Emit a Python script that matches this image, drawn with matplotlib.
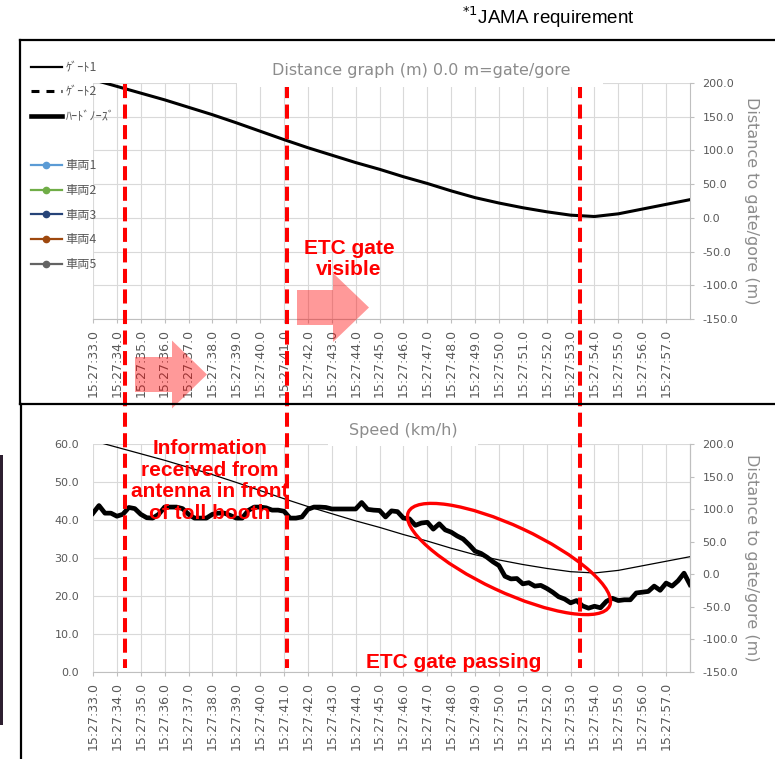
import numpy as np
import matplotlib
matplotlib.use("Agg")
import matplotlib.pyplot as plt
import matplotlib.transforms as mtransforms
from matplotlib.lines import Line2D
from matplotlib.patches import FancyArrow, Ellipse, Rectangle

# ---- data ----
# speed samples every 0.25 s starting at 15:27:33.0
speed_kmh = [
    41.8, 43.8, 41.8, 41.8, 41.0, 41.5, 43.3, 43.0, 41.5, 40.6,
    40.5, 41.5, 43.4, 43.4, 43.4, 43.0, 41.5, 40.5, 40.5, 40.5,
    41.5, 41.8, 41.8, 41.2, 40.5, 40.5, 42.5, 43.4, 43.4, 43.2,
    42.6, 42.6, 42.3, 40.5, 40.5, 40.8, 42.8, 43.4, 43.4, 43.3,
    42.9, 42.9, 42.9, 42.9, 42.9, 44.6, 42.8, 42.6, 42.5, 40.8,
    42.4, 42.2, 40.5, 40.3, 38.6, 39.2, 39.4, 37.6, 39.0, 37.4,
    36.8, 35.8, 35.0, 33.5, 31.8, 31.2, 30.2, 29.0, 28.0, 25.2,
    24.5, 24.6, 23.2, 23.5, 22.6, 22.8, 22.0, 21.0, 19.8, 19.2,
    18.2, 18.8, 17.4, 16.8, 17.3, 16.9, 18.6, 19.4, 18.8, 19.0,
    19.0, 20.8, 21.0, 21.2, 22.6, 21.5, 23.4, 22.6, 24.0, 26.0,
    23.0,
]
speed_step = 0.25

# distance to gate/gore, one value per second
distance_m = [205, 195, 185, 175, 164, 153, 141, 128.5, 116, 104,
              93, 82, 72, 61, 51, 40, 30, 22, 15, 9,
              4, 2, 6, 13, 20, 27]

# event markers (seconds after 15:27:33.0)
event_times = [1.34, 8.12, 20.4]

x_tick_labels = ["15:27:%02d.0" % s for s in range(33, 58)]
speed_ticks = [0, 10, 20, 30, 40, 50, 60]
dist_ticks = [-150, -100, -50, 0, 50, 100, 150, 200]

legend_labels = ["ｹﾞｰﾄ1", "ｹﾞｰﾄ2", "ﾊｰﾄﾞﾉｰｽﾞ", " ",
                 "車両1", "車両2", "車両3", "車両4", "車両5"]
vehicle_colors = ["#5B9BD5", "#70AD47", "#264478", "#9E480E", "#636363"]

speed_t = np.arange(len(speed_kmh)) * speed_step
dist_t = np.arange(len(distance_m))

W, H = 775, 759
GRID = "#d9d9d9"
AXC = "#bfbfbf"
TXT = "#595959"
TITLE = "#8c8c8c"

fig = plt.figure(figsize=(W / 100, H / 100), dpi=100)
fig.patch.set_facecolor("white")


def px(x0, y_top, x1, y_bot):
    return [x0 / W, 1 - y_bot / H, (x1 - x0) / W, (y_bot - y_top) / H]


def style_axis(ax):
    ax.set_xlim(0, 25)
    ax.set_xticks(range(25))
    ax.set_xticklabels(x_tick_labels, rotation=90, fontsize=9, color=TXT)
    ax.grid(True, color=GRID, lw=0.8)
    ax.set_axisbelow(True)
    for s in ["top", "left"]:
        ax.spines[s].set_visible(False)
    for s in ["bottom", "right"]:
        ax.spines[s].set_color(AXC)
    ax.tick_params(axis="x", length=3, color=AXC, pad=4)


# ---- top panel: distance graph ----
ax_top = fig.add_axes(px(93, 83, 690, 319))
style_axis(ax_top)
ax_top.plot(dist_t, distance_m, color="black", lw=2.2, zorder=3)
ax_top.set_ylim(-150, 200)
ax_top.yaxis.tick_right()
ax_top.set_yticks(dist_ticks)
ax_top.set_yticklabels(["%.1f" % v for v in dist_ticks], fontsize=8, color=TXT)
ax_top.tick_params(axis="y", length=3, color=AXC, pad=6)
ax_top.yaxis.set_label_position("right")
ax_top.set_ylabel("Distance to gate/gore (m)", rotation=270, fontsize=11.5,
                  color=TITLE, labelpad=15)

# ---- bottom panel: speed ----
ax_bot = fig.add_axes(px(93, 444, 690, 672))
style_axis(ax_bot)
ax_bot.plot(speed_t, speed_kmh, color="black", lw=3.4, zorder=3)
ax_bot.set_ylim(0, 60)
ax_bot.set_yticks(speed_ticks)
ax_bot.set_yticklabels(["%.1f" % v for v in speed_ticks], fontsize=8, color=TXT)
ax_bot.tick_params(axis="y", length=0, pad=10)
ax_bot.spines["left"].set_visible(False)

ax_bot2 = ax_bot.twinx()
ax_bot2.plot(dist_t, distance_m, color="black", lw=0.9, zorder=3)
ax_bot2.set_ylim(-150, 200)
ax_bot2.set_yticks(dist_ticks)
ax_bot2.set_yticklabels(["%.1f" % v for v in dist_ticks], fontsize=8, color=TXT)
ax_bot2.tick_params(axis="y", length=3, color=AXC, pad=6)
for s in ["top", "left", "bottom"]:
    ax_bot2.spines[s].set_visible(False)
ax_bot2.spines["right"].set_color(AXC)
ax_bot2.set_ylabel("Distance to gate/gore (m)", rotation=270, fontsize=11.5,
                   color=TITLE, labelpad=15)

# red dashed event lines through both panels
trans = mtransforms.blended_transform_factory(ax_top.transData, fig.transFigure)
for t in event_times:
    fig.add_artist(Line2D([t, t], [1 - 84 / H, 1 - 668 / H], transform=trans,
                          color="red", lw=2.9, ls=(0, (3.5, 1.6)), zorder=4))

# legend
handles = [
    Line2D([], [], color="black", lw=1.6),
    Line2D([], [], color="black", lw=2.2, ls=(0, (2.6, 2.3))),
    Line2D([], [], color="black", lw=3.3),
    Line2D([], [], color="none"),
]
for c in vehicle_colors:
    handles.append(Line2D([], [], color=c, lw=1.6, marker="o", markersize=4.5))
fig.legend(handles, legend_labels, loc="upper left",
           bbox_to_anchor=(31 / W, 1 - 61 / H), frameon=False,
           prop={"family": ["Noto Sans CJK JP", "DejaVu Sans"], "size": 8.8},
           labelcolor=TXT, handlelength=2.5, handletextpad=0.35,
           labelspacing=0.95, borderpad=0, borderaxespad=0)

# ---- overlay for frames, callouts and titles (pixel coordinates) ----
ov = fig.add_axes([0, 0, 1, 1], zorder=10)
ov.set_xlim(0, W)
ov.set_ylim(H, 0)
ov.axis("off")
ov.patch.set_alpha(0)

# panel frames
ov.plot([20, W + 5], [40, 40], color="black", lw=1.6)
ov.plot([20, 20], [40, 404], color="black", lw=1.6)
ov.plot([20, W + 5], [404, 404], color="black", lw=1.6)
ov.plot([21, 21], [404, H + 5], color="black", lw=1.6)
ov.add_patch(Rectangle((0, 455), 2.5, 270, color="#2d1f30", lw=0))

# white boxes behind chart titles
ov.add_patch(Rectangle((237, 55), 366, 32, color="white", lw=0))
ov.add_patch(Rectangle((328, 412), 150, 34, color="white", lw=0))
ov.text(421, 70, "Distance graph (m) 0.0 m=gate/gore", ha="center",
        va="center", fontsize=11.5, color=TITLE)
ov.text(403, 430, "Speed (km/h)", ha="center", va="center",
        fontsize=11.5, color=TITLE)

ov.text(462, 17, r"$^{*1}$JAMA requirement", ha="left", va="center",
        fontsize=13.5, family="Liberation Sans", color="black")

# pink arrows
ov.add_patch(FancyArrow(135, 374.5, 72, 0, width=35, head_width=68,
                        head_length=35, length_includes_head=True,
                        color="red", alpha=0.4, lw=0))
ov.add_patch(FancyArrow(297, 307.5, 72, 0, width=35, head_width=69,
                        head_length=36, length_includes_head=True,
                        color="red", alpha=0.4, lw=0))

# ellipse around the deceleration
ov.add_patch(Ellipse((509, 559), 222, 66, angle=25, fill=False,
                     edgecolor="red", lw=2.4))

red_font = dict(color="red", fontsize=15, fontweight="bold",
                family="Liberation Sans", ha="center", va="center")
ov.text(349, 259, "ETC gate\nvisible", linespacing=1.13, **red_font)
ov.text(210, 481, "Information\nreceived from\nantenna in front\nof toll booth",
        linespacing=1.17, **red_font)
ov.text(454, 662, "ETC gate passing", **red_font)

fig.savefig("out.png", dpi=100)
